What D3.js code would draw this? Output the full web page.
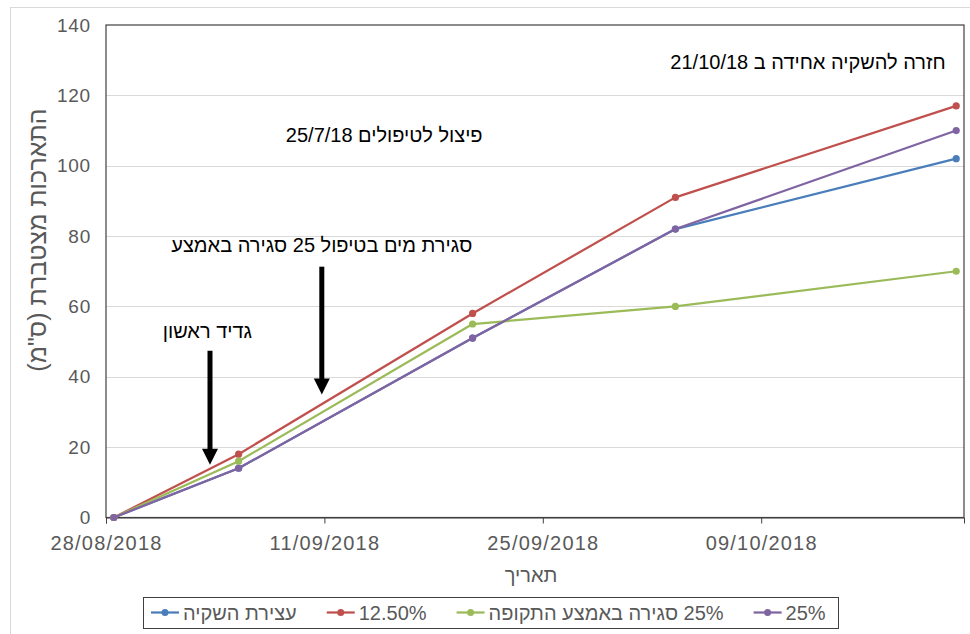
<!DOCTYPE html>
<html>
<head>
<meta charset="utf-8">
<script src="https://cdn.jsdelivr.net/npm/d3@7"></script>
<style>
  body { margin: 0; background: #fff; }
  svg { display: block; font-family: "Liberation Sans", Arial, sans-serif; }
</style>
</head>
<body>
<div id="chart"></div>
<script>
// data
const dates = ["28/08/2018", "05/09/2018", "20/09/2018", "03/10/2018", "21/10/2018"];
const seriesNames = ["עצירת השקיה", "12.50%", "25% סגירה באמצע התקופה", "25%"];
const stopIrrigation = [0, 14, 51, 82, 102];
const pct125 = [0, 18, 58, 91, 117];
const closeMid25 = [0, 16, 55, 60, 70];
const pct25 = [0, 14, 51, 82, 110];
const seriesColors = ["#4a7ebb", "#c0504d", "#9bbb59", "#8064a2"];
const yTicks = [0, 20, 40, 60, 80, 100, 120, 140];
const xTicks = ["28/08/2018", "11/09/2018", "25/09/2018", "09/10/2018"];
const xTitle = "תאריך";
const yTitle = "התארכות מצטברת (ס\"מ)";

// notes on the chart: date/time and value of text centre, arrow top and tip
const notes = [
  { text: "חזרה להשקיה אחידה ב 21/10/18", at: "12/10/2018 00:00", value: 127.5 },
  { text: "פיצול לטיפולים 25/7/18", at: "14/09/2018 20:00", value: 106.8 },
  { text: "סגירת מים בטיפול 25 סגירה באמצע", at: "10/09/2018 20:00", value: 75.5 },
  { text: "גדיד ראשון", at: "03/09/2018 12:00", value: 51 }
];
const arrows = [
  { at: "03/09/2018 16:00", top: 47.4, tip: 15 },
  { at: "10/09/2018 20:00", top: 71.3, tip: 35 }
];

const W = 970, H = 634;
const parse = d3.timeParse("%d/%m/%Y");
const parseAt = d3.timeParse("%d/%m/%Y %H:%M");
const fmt = d3.timeFormat("%d/%m/%Y");
const series = [stopIrrigation, pct125, closeMid25, pct25].map((vals, i) => ({
  name: seriesNames[i],
  color: seriesColors[i],
  values: vals.map((v, j) => ({ date: d3.timeHour.offset(parse(dates[j]), 12), value: v }))
}));

const svg = d3.select("#chart").append("svg").attr("width", W).attr("height", H);

// outer chart border
svg.append("rect").attr("x", 10.5).attr("y", 7.5).attr("width", 980).attr("height", 700)
  .attr("fill", "none").attr("stroke", "#d9d9d9");

const plotLeft = 106, plotRight = 964, plotTop = 25, plotBottom = 517.5;

const x = d3.scaleTime()
  .domain([parse("28/08/2018"), parse("22/10/2018")])
  .range([plotLeft, plotRight]);
const y = d3.scaleLinear().domain([0, 140]).range([plotBottom, plotTop]);

// gridlines
svg.append("g").selectAll("line")
  .data(yTicks.filter(t => t > 0 && t < 140))
  .join("line")
  .attr("x1", plotLeft).attr("x2", plotRight)
  .attr("y1", d => Math.round(y(d)) + 0.5).attr("y2", d => Math.round(y(d)) + 0.5)
  .attr("stroke", "#d9d9d9");

// plot frame
svg.append("rect").attr("x", plotLeft).attr("y", plotTop)
  .attr("width", plotRight - plotLeft).attr("height", plotBottom - plotTop)
  .attr("fill", "none").attr("stroke", "#404040").attr("stroke-width", 1.2);

// x axis
const xAxis = svg.append("g")
  .attr("transform", `translate(0,${plotBottom})`)
  .call(d3.axisBottom(x).tickValues(xTicks.map(parse)).tickFormat(fmt).tickSize(6).tickPadding(12));
xAxis.select(".domain").attr("stroke", "#404040");
xAxis.selectAll(".tick line").attr("stroke", "#404040");
xAxis.selectAll(".tick text").attr("fill", "#595959").style("font-size", "20px").style("letter-spacing", "1.2px");

// y axis
const yAxis = svg.append("g")
  .attr("transform", `translate(${plotLeft},0)`)
  .call(d3.axisLeft(y).tickValues(yTicks).tickSize(0).tickPadding(15));
yAxis.select(".domain").remove();
yAxis.selectAll(".tick text").attr("fill", "#595959").style("font-size", "19px").style("letter-spacing", "0.8px");

// axis titles
svg.append("text").attr("x", (plotLeft + plotRight) / 2 - 4).attr("y", 582)
  .attr("text-anchor", "middle").attr("direction", "rtl")
  .attr("fill", "#595959").style("font-size", "20px").text(xTitle);
svg.append("text").attr("transform", "translate(46,240) rotate(-90)")
  .attr("text-anchor", "middle").attr("direction", "rtl")
  .attr("fill", "#595959").style("font-size", "25px").text(yTitle);

// lines
const line = d3.line().x(d => x(d.date)).y(d => y(d.value));
const sg = svg.append("g").selectAll("g").data(series).join("g");
sg.append("path")
  .attr("d", d => line(d.values))
  .attr("fill", "none").attr("stroke", d => d.color).attr("stroke-width", 2.25)
  .attr("stroke-linejoin", "round");
sg.selectAll("circle")
  .data(d => d.values.map(v => ({ ...v, color: d.color })))
  .join("circle")
  .attr("cx", d => x(d.date)).attr("cy", d => y(d.value)).attr("r", 3.6)
  .attr("fill", d => d.color);

// annotations
svg.append("g").selectAll("text").data(notes).join("text")
  .attr("x", d => x(parseAt(d.at)))
  .attr("y", d => y(d.value))
  .attr("text-anchor", "middle").attr("direction", "rtl")
  .attr("fill", "#000").style("font-size", "20px")
  .text(d => d.text);

const ag = svg.append("g").selectAll("g").data(arrows).join("g");
ag.append("line")
  .attr("x1", d => x(parseAt(d.at))).attr("x2", d => x(parseAt(d.at)))
  .attr("y1", d => y(d.top)).attr("y2", d => y(d.tip) - 12)
  .attr("stroke", "#000").attr("stroke-width", 5);
ag.append("path")
  .attr("d", d => {
    const cx = x(parseAt(d.at)), ty = y(d.tip);
    return `M${cx - 8},${ty - 16}L${cx + 8},${ty - 16}L${cx},${ty}Z`;
  })
  .attr("fill", "#000");

// legend
const legend = svg.append("g");
const boxX = 143, boxY = 597, boxW = 695, boxH = 31;
legend.append("rect").attr("x", boxX + 0.5).attr("y", boxY + 0.5).attr("width", boxW).attr("height", boxH)
  .attr("fill", "#fff").attr("stroke", "#404040");
let lx = boxX + 8;
series.forEach((s, i) => {
  const cy = boxY + boxH / 2;
  legend.append("line").attr("x1", lx).attr("x2", lx + 28).attr("y1", cy).attr("y2", cy)
    .attr("stroke", s.color).attr("stroke-width", 2.25);
  legend.append("circle").attr("cx", lx + 14).attr("cy", cy).attr("r", 3.5).attr("fill", s.color);
  const t = legend.append("text").attr("y", cy + 7)
    .attr("text-anchor", "middle").attr("direction", "rtl")
    .attr("fill", "#595959").style("font-size", "20px").text(s.name);
  const w = t.node().getComputedTextLength();
  t.attr("x", lx + 32 + w / 2);
  lx += 32 + w + 30;
});
</script>
</body>
</html>
